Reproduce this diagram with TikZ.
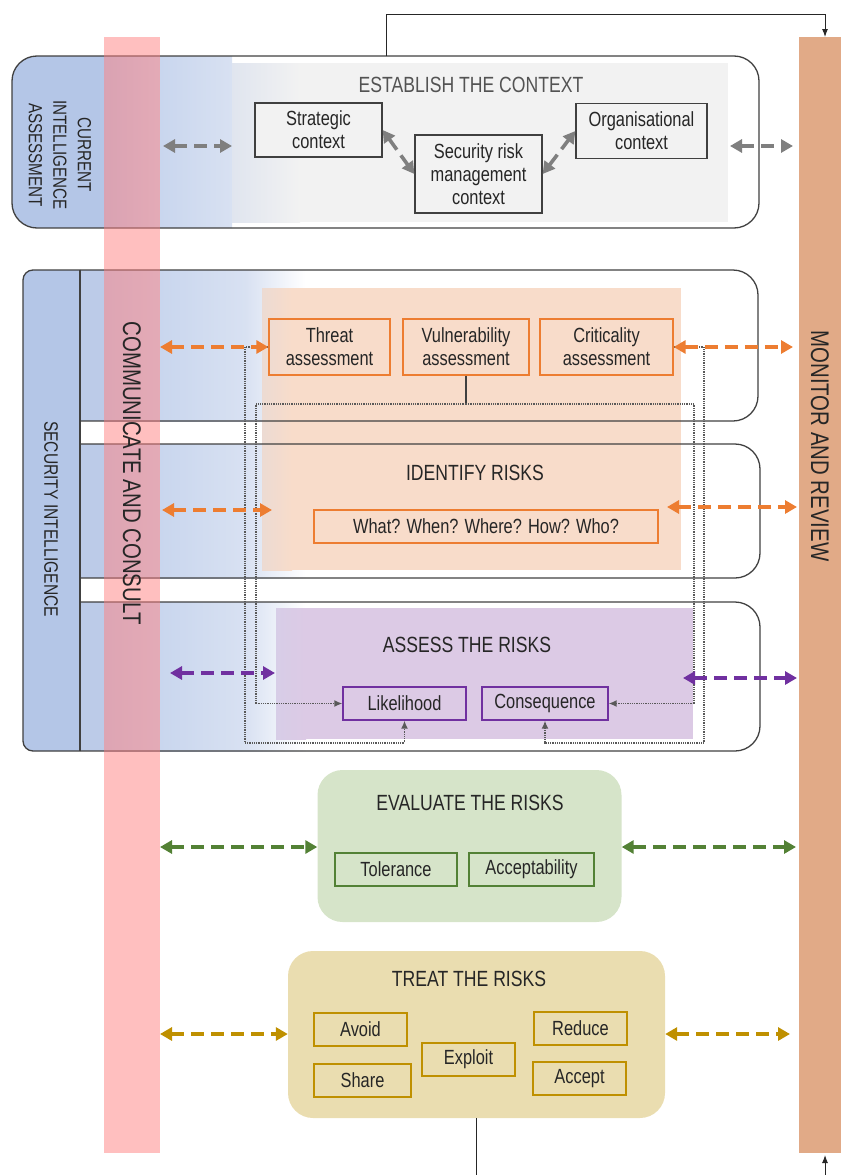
\documentclass[tikz,border=0pt]{standalone}
\usepackage{fontspec}
\setmainfont{Liberation Sans}[FakeStretch=0.8]
\usetikzlibrary{arrows.meta}
\definecolor{siblue}{HTML}{B4C6E7}
\definecolor{siblueb}{HTML}{BCCBE8}
\definecolor{bltwo}{HTML}{C9D6EE}
\definecolor{blthree}{HTML}{D8E1F2}
\definecolor{grayfade}{HTML}{E0E5EF}
\definecolor{pinkbar}{HTML}{FF8080}
\definecolor{monitorc}{HTML}{E1AA87}
\definecolor{ctxgray}{HTML}{F2F2F2}
\definecolor{orfill}{HTML}{F8DCCA}
\definecolor{orline}{HTML}{ED7D31}
\definecolor{pufill}{HTML}{DCCAE5}
\definecolor{puline}{HTML}{7030A0}
\definecolor{grfill}{HTML}{D6E4C9}
\definecolor{grline}{HTML}{538135}
\definecolor{gofill}{HTML}{EADDB0}
\definecolor{goline}{HTML}{BF9000}
\definecolor{arrgray}{HTML}{7F7F7F}
\definecolor{txt}{HTML}{262626}
\definecolor{bordc}{HTML}{404040}
\begin{document}
\begin{tikzpicture}[x=1pt,y=-1pt,
  bx/.style={draw=#1, line width=1.3pt, inner sep=0pt, align=center, text=txt,
     font=\fontsize{20.5}{23}\selectfont},
  ttl/.style={text=txt, inner sep=0pt, font=\fontsize{22}{26}\selectfont},
  vtxt/.style={rotate=-90, text=txt, inner sep=0pt, align=center},
  dbl/.style={draw=#1, line width=4pt, dash pattern=on 13pt off 7pt,
     {Triangle[length=12pt,width=13pt]}-{Triangle[length=12pt,width=13pt]}},
  dotc/.style={draw=black!65, line width=1.5pt, dash pattern=on 0.9pt off 0.9pt,
     -{Latex[length=8pt,width=7pt]}},
  thinarr/.style={draw=black!85, line width=1pt, -{Latex[length=8pt,width=6pt]}},
  bord/.style={draw=bordc, line width=1.3pt}
]
\useasboundingbox (0,0) rectangle (841,1175);

% ---------- top box: establish the context
\begin{scope}
  \clip[rounded corners=25] (12,56) rectangle (759,228);
  \fill[white] (12,56) rectangle (759,228);
  \fill[ctxgray] (232,63) rectangle (728,222);
  \fill[siblue] (12,56) rectangle (104,228);
  \shade[left color=siblue, right color=bltwo] (104,56) rectangle (160,228);
  \shade[left color=bltwo, right color=blthree] (160,56) rectangle (232,228);
  \shade[left color=grayfade, right color=ctxgray] (232,63) rectangle (300,222);
\end{scope}
\draw[bord, rounded corners=25] (12,56) rectangle (759,228);

% ---------- security intelligence rows
\fill[siblue, rounded corners=10] (80,751) -- (23,751) -- (23,270) -- (80,270);
\foreach \ya/\yb in {270/421, 444/578, 602/751}{
  \fill[siblueb] (80,\ya) rectangle (104,\yb);
  \shade[left color=siblueb, right color=bltwo] (104,\ya) rectangle (160,\yb);
  \shade[left color=bltwo, right color=blthree] (160,\ya) rectangle (245,\yb);
  \shade[left color=blthree, right color=white] (245,\ya) rectangle (305,\yb);
}
\fill[orfill] (262,288) rectangle (681,570);
\shade[left color=orfill!75!bltwo, right color=orfill] (262,288) rectangle (292,570);
\fill[pufill] (276,608) rectangle (693,739);
\shade[left color=pufill!75!bltwo, right color=pufill] (276,608) rectangle (306,739);

\draw[bord] (80,270) -- (80,751);
\draw[bord, rounded corners=10] (80,751) -- (23,751) -- (23,270) -- (80,270);
\draw[bord, rounded corners=25] (80,270) -- (758,270) -- (758,421) -- (80,421);
\draw[bord, rounded corners=25] (80,444) -- (760,444) -- (760,578) -- (80,578);
\draw[bord, rounded corners=25] (80,602) -- (760,602) -- (760,751) -- (80,751);

% ---------- evaluate / treat boxes
\node[fill=grfill, rounded corners=25, minimum width=304pt, minimum height=152pt, inner sep=0pt] (eval) at (469.5,846) {};
\node[fill=gofill, rounded corners=25, minimum width=377pt, minimum height=167pt, inner sep=0pt] (treat) at (476.5,1034.5) {};

% ---------- side bars
\fill[pinkbar, opacity=0.5] (104,37) rectangle (160,1153);
\fill[monitorc] (799,37) rectangle (841,1153);

% ---------- vertical texts
\node[vtxt, font=\fontsize{25.5}{30}\selectfont] (mon) at (820,446) {MONITOR AND REVIEW};
\node[vtxt, font=\fontsize{25.5}{30}\selectfont] (comm) at (132,473) {COMMUNICATE AND CONSULT};
\node[vtxt, font=\fontsize{19.5}{24}\selectfont] (sec) at (51,519) {SECURITY INTELLIGENCE};
\node[vtxt, font=\fontsize{19}{24.5}\selectfont] (cia) at (60,155) {CURRENT\\INTELLIGENCE\\ASSESSMENT};

% ---------- titles
\node[ttl, text=bordc!90] (tctx) at (471,85) {ESTABLISH THE CONTEXT};
\node[ttl] (tid) at (475,473) {IDENTIFY RISKS};
\node[ttl] (tas) at (467,645) {ASSESS THE RISKS};
\node[ttl] (tev) at (470,803) {EVALUATE THE RISKS};
\node[ttl] (ttr) at (469,979) {TREAT THE RISKS};

% ---------- boxes
\node[bx=bordc, fill=ctxgray, minimum width=127pt, minimum height=54pt] (strat) at (318.5,130) {Strategic\\context};
\node[bx=bordc, fill=ctxgray, minimum width=127pt, minimum height=78pt] (srm) at (478.5,174) {Security risk\\management\\context};
\node[bx=bordc, fill=ctxgray, minimum width=131pt, minimum height=55pt] (org) at (641.5,131) {Organisational\\context};

\node[bx=orline, minimum width=121pt, minimum height=56pt] (threat) at (329.5,347) {Threat\\assessment};
\node[bx=orline, minimum width=126pt, minimum height=56pt] (vuln) at (466,347) {Vulnerability\\assessment};
\node[bx=orline, minimum width=133pt, minimum height=56pt] (crit) at (606.5,347) {Criticality\\assessment};
\node[bx=orline, minimum width=344pt, minimum height=33pt] (what) at (486,526.5) {What? When? Where? How? Who?};

\node[bx=puline, minimum width=123pt, minimum height=33pt] (like) at (404.5,703.5) {Likelihood};
\node[bx=puline, minimum width=126pt, minimum height=33pt] (cons) at (545,703.5) {Consequence};

\node[bx=grline, minimum width=122pt, minimum height=33pt] (tol) at (396,869.5) {Tolerance};
\node[bx=grline, minimum width=125pt, minimum height=33pt] (acc) at (531.5,869.5) {Acceptability};

\node[bx=goline, minimum width=93pt, minimum height=33pt] (avoid) at (360.5,1029.5) {Avoid};
\node[bx=goline, minimum width=97pt, minimum height=33pt] (share) at (362.5,1080.5) {Share};
\node[bx=goline, minimum width=93pt, minimum height=33pt] (exploit) at (468.5,1059.5) {Exploit};
\node[bx=goline, minimum width=93pt, minimum height=33pt] (reduce) at (580.5,1028.5) {Reduce};
\node[bx=goline, minimum width=93pt, minimum height=33pt] (accept) at (579.5,1078.5) {Accept};

% ---------- dotted connectors
\coordinate (vj) at (466,404);
\draw[bordc, line width=1.2pt] (vuln.south) -- (vj);
\draw[dotc] (threat.west) -| (245,743) -| (like.south);
\draw[dotc] (crit.east) -| (704,743) -| (cons.south);
\draw[dotc] (vj) -| (256,600) |- (like.west);
\draw[dotc] (vj) -| (694,600) |- (cons.east);

% ---------- dashed double arrows
\coordinate (gL) at (163,146);  \coordinate (gR) at (730,146); \coordinate (gM) at (793,146);
\draw[dbl=arrgray] (gL) -- (232,146);
\draw[dbl=arrgray] (gR) -- (gM);
\draw[dbl=arrgray, line width=3.6pt] (strat.east) -- (srm.west);
\draw[dbl=arrgray, line width=3.6pt] (srm.east) -- (org.west);

\coordinate (o1L) at (160,347); \coordinate (o1R) at (793,347);
\draw[dbl=orline] (o1L) -- (threat.west);
\draw[dbl=orline] (crit.east) -- (o1R);
\coordinate (o2L) at (162,510); \coordinate (o2a) at (272,510);
\coordinate (o2b) at (667,507); \coordinate (o2R) at (797,507);
\draw[dbl=orline] (o2L) -- (o2a);
\draw[dbl=orline] (o2b) -- (o2R);
\coordinate (p1L) at (170,673); \coordinate (p1a) at (275,673);
\coordinate (p1b) at (683,678); \coordinate (p1R) at (797,678);
\draw[dbl=puline] (p1L) -- (p1a);
\draw[dbl=puline] (p1b) -- (p1R);
\coordinate (gr1L) at (160,847); \coordinate (gr1R) at (796,847);
\draw[dbl=grline] (gr1L) -- (eval.west |- gr1L);
\draw[dbl=grline] (eval.east |- gr1R) -- (gr1R);
\coordinate (goL) at (160,1034); \coordinate (goR) at (790,1034);
\draw[dbl=goline] (goL) -- (treat.west |- goL);
\draw[dbl=goline] (treat.east |- goR) -- (goR);

% ---------- thin loop connectors
\coordinate (ctop) at (386,56);
\coordinate (mtop) at (825,37);
\coordinate (mbot) at (825,1155);
\draw[thinarr] (ctop) -- ++(0,-42) -| (mtop);
\draw[draw=black!85, line width=1pt] (treat.south) -- ++(0,57);
\draw[thinarr] (825,1175) -- (mbot);
\end{tikzpicture}
\end{document}
